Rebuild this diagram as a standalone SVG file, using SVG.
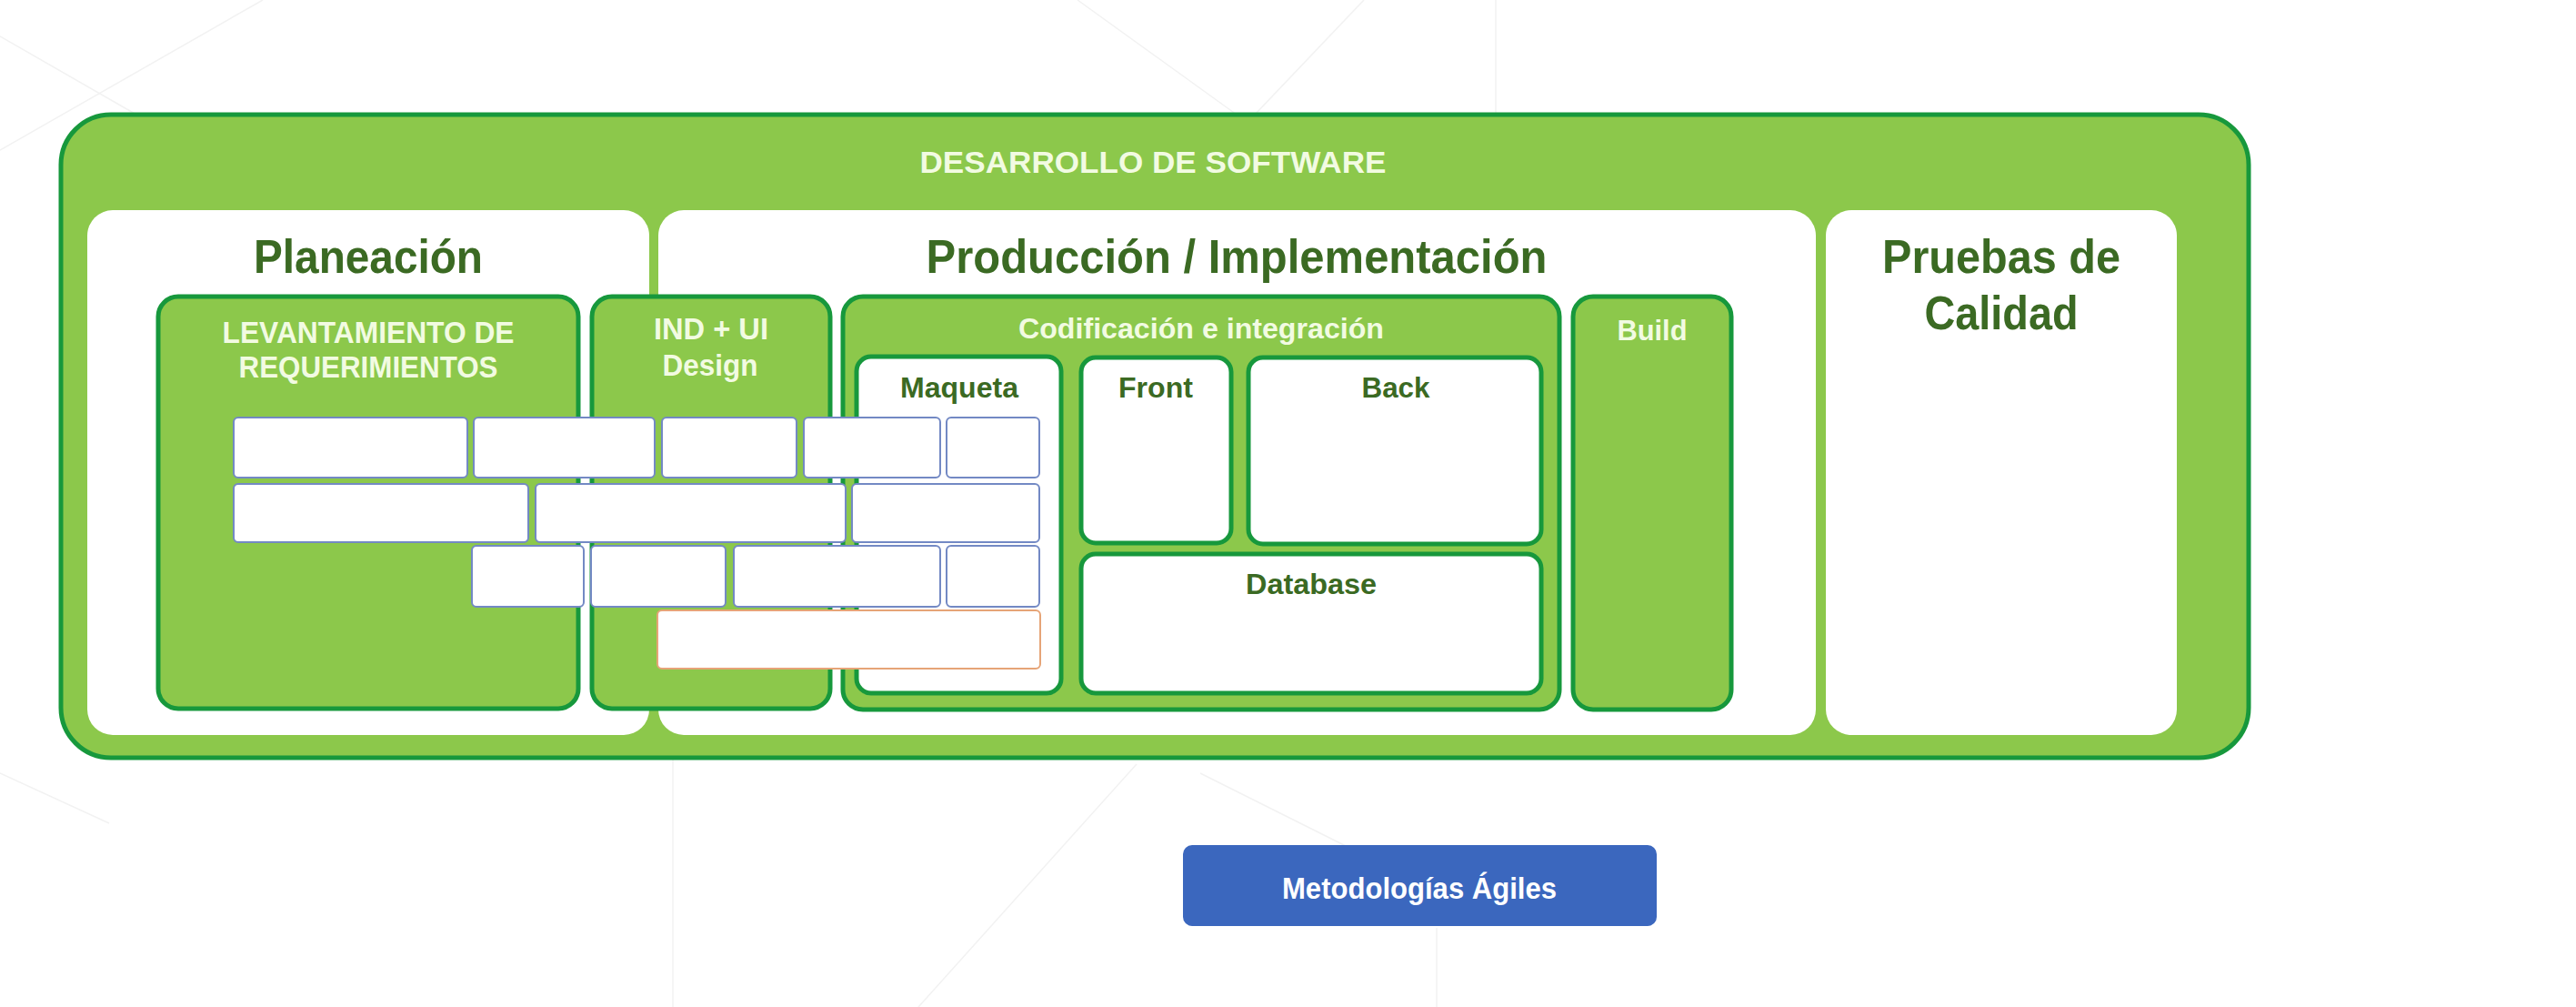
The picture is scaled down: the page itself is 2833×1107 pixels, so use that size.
<svg xmlns="http://www.w3.org/2000/svg" width="2833" height="1107" viewBox="0 0 2833 1107">
<style>
.bg{fill:#ffffff}
.deco{stroke:#f2f2f2;stroke-width:1.5;fill:none}
.outer{fill:#8cc84b;stroke:#17983c;stroke-width:5}
.panel{fill:#ffffff}
.gbox{fill:#8cc84b;stroke:#17983c;stroke-width:5}
.wbox{fill:#ffffff;stroke:#17983c;stroke-width:5}
.cell{fill:#ffffff;stroke:#7389c4;stroke-width:2}
.cello{fill:#ffffff;stroke:#e6a477;stroke-width:2}
.btn{fill:#3b67be}
text{font-family:"Liberation Sans","Roboto",Arial,sans-serif;font-weight:bold;text-anchor:middle}
.dk{fill:#3b6a23}
.lt{fill:#f2fbe2}
.wt{fill:#ffffff}
</style>
<rect class="bg" x="0" y="0" width="2833" height="1107"/>
<g id="background-lines">
<line class="deco" x1="289" y1="0" x2="0" y2="165"/>
<line class="deco" x1="0" y1="40" x2="150" y2="126"/>
<line class="deco" x1="1185" y1="0" x2="1360" y2="126"/>
<line class="deco" x1="1500" y1="0" x2="1380" y2="126"/>
<line class="deco" x1="1645" y1="0" x2="1645" y2="126"/>
<line class="deco" x1="0" y1="850" x2="120" y2="905"/>
<line class="deco" x1="740" y1="835" x2="740" y2="1107"/>
<line class="deco" x1="1250" y1="840" x2="1010" y2="1107"/>
<line class="deco" x1="1320" y1="850" x2="1480" y2="930"/>
<line class="deco" x1="1580" y1="1020" x2="1580" y2="1107"/>
</g>
<g id="desarrollo">
<rect class="outer" x="67" y="126" width="2406" height="707" rx="55"/>
<text class="lt" x="1268" y="190" font-size="34" textLength="513" lengthAdjust="spacingAndGlyphs">DESARROLLO DE SOFTWARE</text>
</g>
<g id="planeacion">
<rect class="panel" x="96" y="231" width="618" height="577" rx="28"/>
<text class="dk" x="405" y="300" font-size="52" textLength="252" lengthAdjust="spacingAndGlyphs">Planeación</text>
</g>
<g id="produccion">
<rect class="panel" x="724" y="231" width="1273" height="577" rx="28"/>
<text class="dk" x="1360" y="300" font-size="52" textLength="683" lengthAdjust="spacingAndGlyphs">Producción / Implementación</text>
</g>
<g id="pruebas">
<rect class="panel" x="2008" y="231" width="386" height="577" rx="28"/>
<text class="dk" x="2201" y="300" font-size="52" textLength="262" lengthAdjust="spacingAndGlyphs">Pruebas de</text>
<text class="dk" x="2201" y="362" font-size="52" textLength="169" lengthAdjust="spacingAndGlyphs">Calidad</text>
</g>
<g id="levantamiento">
<rect class="gbox" x="174" y="326" width="462" height="453" rx="22"/>
<text class="lt" x="405" y="377" font-size="34" textLength="321" lengthAdjust="spacingAndGlyphs">LEVANTAMIENTO DE</text>
<text class="lt" x="405" y="415" font-size="34" textLength="285" lengthAdjust="spacingAndGlyphs">REQUERIMIENTOS</text>
</g>
<g id="ind-ui">
<rect class="gbox" x="651" y="326" width="262" height="453" rx="22"/>
<text class="lt" x="782" y="373" font-size="34" textLength="126" lengthAdjust="spacingAndGlyphs">IND + UI</text>
<text class="lt" x="781" y="413" font-size="34" textLength="105" lengthAdjust="spacingAndGlyphs">Design</text>
</g>
<g id="codificacion">
<rect class="gbox" x="927" y="326" width="788" height="454" rx="22"/>
<text class="lt" x="1321" y="372" font-size="32" textLength="402" lengthAdjust="spacingAndGlyphs">Codificación e integración</text>
</g>
<g id="maqueta">
<rect class="wbox" x="942" y="392" width="225" height="370" rx="16"/>
<text class="dk" x="1055" y="437" font-size="31" textLength="130" lengthAdjust="spacingAndGlyphs">Maqueta</text>
</g>
<g id="front">
<rect class="wbox" x="1189" y="393" width="165" height="204" rx="16"/>
<text class="dk" x="1271" y="437" font-size="31" textLength="82" lengthAdjust="spacingAndGlyphs">Front</text>
</g>
<g id="back">
<rect class="wbox" x="1373" y="393" width="322" height="205" rx="16"/>
<text class="dk" x="1535" y="437" font-size="31" textLength="75" lengthAdjust="spacingAndGlyphs">Back</text>
</g>
<g id="database">
<rect class="wbox" x="1189" y="609" width="506" height="153" rx="16"/>
<text class="dk" x="1442" y="653" font-size="31" textLength="144" lengthAdjust="spacingAndGlyphs">Database</text>
</g>
<g id="build">
<rect class="gbox" x="1730" y="326" width="174" height="454" rx="22"/>
<text class="lt" x="1817" y="374" font-size="32" textLength="77" lengthAdjust="spacingAndGlyphs">Build</text>
</g>
<g id="grid-cells">
<rect class="cell" x="257" y="459" width="257" height="66" rx="5"/>
<rect class="cell" x="521" y="459" width="199" height="66" rx="5"/>
<rect class="cell" x="728" y="459" width="148" height="66" rx="5"/>
<rect class="cell" x="884" y="459" width="150" height="66" rx="5"/>
<rect class="cell" x="1041" y="459" width="102" height="66" rx="5"/>
<rect class="cell" x="257" y="532" width="324" height="64" rx="5"/>
<rect class="cell" x="589" y="532" width="341" height="64" rx="5"/>
<rect class="cell" x="937" y="532" width="206" height="64" rx="5"/>
<rect class="cell" x="519" y="600" width="123" height="67" rx="5"/>
<rect class="cell" x="650" y="600" width="148" height="67" rx="5"/>
<rect class="cell" x="807" y="600" width="227" height="67" rx="5"/>
<rect class="cell" x="1041" y="600" width="102" height="67" rx="5"/>
<rect class="cello" x="723" y="671" width="421" height="64" rx="5"/>
</g>
<g id="metodologias">
<rect class="btn" x="1301" y="929" width="521" height="89" rx="10"/>
<text class="wt" x="1561" y="988" font-size="34" textLength="302" lengthAdjust="spacingAndGlyphs">Metodologías Ágiles</text>
</g>
<g id="connectors"/>
</svg>
